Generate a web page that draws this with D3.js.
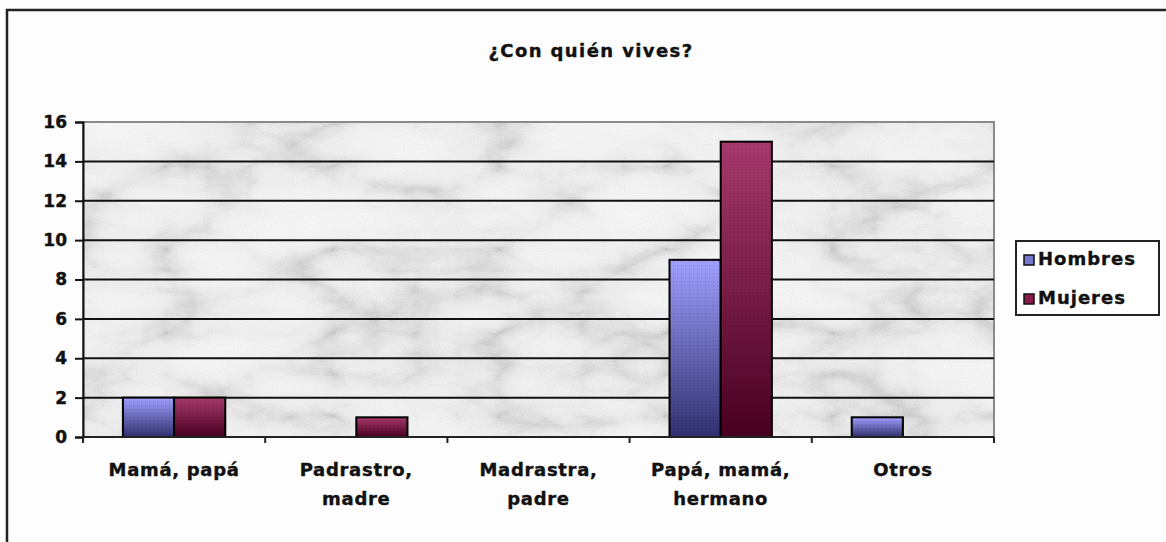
<!DOCTYPE html>
<html>
<head>
<meta charset="utf-8">
<script src="https://cdn.jsdelivr.net/npm/d3@7"></script>
<style>
  body { margin: 0; background: #fdfdfd; }
  text { font-family: "DejaVu Sans", Verdana, sans-serif; font-weight: bold; fill: #111; stroke: #111; stroke-width: 0.4px; }
</style>
</head>
<body>
<script>
var categories = [["Mamá, papá"], ["Padrastro,", "madre"], ["Madrastra,", "padre"], ["Papá, mamá,", "hermano"], ["Otros"]];
var series = ["Hombres", "Mujeres"];
var hombres = [2, 0, 0, 9, 1];
var mujeres = [2, 1, 0, 15, 0];
var yTicks = [0, 2, 4, 6, 8, 10, 12, 14, 16];

var width = 1166;
var height = 542;
var plot = { left: 83, right: 994, top: 122, bottom: 437 };

var svg = d3.select("body").append("svg").attr("width", width).attr("height", height);
var defs = svg.append("defs");

// marble texture
var f = defs.append("filter").attr("id", "marble").attr("x", 0).attr("y", 0).attr("width", 1).attr("height", 1);
f.append("feTurbulence").attr("type", "turbulence").attr("baseFrequency", "0.006 0.012")
    .attr("numOctaves", 5).attr("seed", 3).attr("result", "t");
f.append("feColorMatrix").attr("in", "t").attr("type", "matrix")
    .attr("values", "1 0 0 0 0  1 0 0 0 0  1 0 0 0 0  0 0 0 0 1").attr("result", "g");
var ct = f.append("feComponentTransfer").attr("in", "g").attr("result", "m");
["feFuncR", "feFuncG", "feFuncB"].forEach(function(fn) {
    ct.append(fn).attr("type", "table").attr("tableValues", "0.58 0.73 0.83 0.87 0.89 0.9 0.91 0.91");
});
f.append("feTurbulence").attr("type", "fractalNoise").attr("baseFrequency", 0.9)
    .attr("numOctaves", 1).attr("seed", 11).attr("result", "n0");
f.append("feColorMatrix").attr("in", "n0").attr("type", "matrix")
    .attr("values", "1 0 0 0 0  1 0 0 0 0  1 0 0 0 0  0 0 0 0 1").attr("result", "n");
f.append("feComposite").attr("in", "m").attr("in2", "n").attr("operator", "arithmetic")
    .attr("k1", 0).attr("k2", 1).attr("k3", 0.16).attr("k4", -0.08);

var gradColors = { Hombres: ["#a0a0ff", "#30306e"], Mujeres: ["#a63a6c", "#480020"] };
series.forEach(function(s) {
    var g = defs.append("linearGradient").attr("id", "grad-" + s).attr("x1", 0).attr("y1", 0).attr("x2", 0).attr("y2", 1);
    g.append("stop").attr("offset", "0%").attr("stop-color", gradColors[s][0]);
    g.append("stop").attr("offset", "100%").attr("stop-color", gradColors[s][1]);
});
var dots = defs.append("pattern").attr("id", "dots").attr("width", 4).attr("height", 4).attr("patternUnits", "userSpaceOnUse");
dots.append("rect").attr("x", 1).attr("y", 1).attr("width", 1).attr("height", 1).attr("fill", "#000").attr("opacity", 0.2);

// outer frame
svg.append("rect").attr("x", 7).attr("y", 10).attr("width", 1300).attr("height", 600)
    .attr("fill", "none").attr("stroke", "#222").attr("stroke-width", 2.5);

var x0 = d3.scaleBand().domain(d3.range(categories.length)).range([plot.left, plot.right]);
var x1 = d3.scaleBand().domain(series).range([0, x0.bandwidth()]).paddingOuter(0.78);
var y = d3.scaleLinear().domain([0, 16]).range([plot.bottom, plot.top]);

// plot background
svg.append("rect").attr("x", plot.left).attr("y", plot.top)
    .attr("width", plot.right - plot.left).attr("height", plot.bottom - plot.top)
    .attr("fill", "#ddd").attr("filter", "url(#marble)");
svg.append("rect").attr("x", plot.left).attr("y", plot.top)
    .attr("width", plot.right - plot.left).attr("height", plot.bottom - plot.top)
    .attr("fill", "none").attr("stroke", "#8a8a8a").attr("stroke-width", 2);

// gridlines
svg.append("g").selectAll("line").data(yTicks.filter(function(d) { return d > 0 && d < 16; }))
    .enter().append("line")
    .attr("x1", plot.left).attr("x2", plot.right)
    .attr("y1", function(d) { return y(d); }).attr("y2", function(d) { return y(d); })
    .attr("stroke", "#111").attr("stroke-width", 2);

// bars
var data = [];
categories.forEach(function(c, i) {
    data.push({ i: i, s: "Hombres", v: hombres[i] });
    data.push({ i: i, s: "Mujeres", v: mujeres[i] });
});
var bars = svg.append("g").selectAll("g").data(data.filter(function(d) { return d.v > 0; })).enter().append("g");
bars.append("rect")
    .attr("x", function(d) { return x0(d.i) + x1(d.s); })
    .attr("y", function(d) { return y(d.v); })
    .attr("width", x1.bandwidth())
    .attr("height", function(d) { return y(0) - y(d.v); })
    .attr("fill", function(d) { return "url(#grad-" + d.s + ")"; });
bars.append("rect")
    .attr("x", function(d) { return x0(d.i) + x1(d.s); })
    .attr("y", function(d) { return y(d.v); })
    .attr("width", x1.bandwidth())
    .attr("height", function(d) { return y(0) - y(d.v); })
    .attr("fill", "url(#dots)")
    .attr("stroke", "#000").attr("stroke-width", 2);

// y axis
var yAxis = svg.append("g").attr("transform", "translate(" + plot.left + ",0)")
    .call(d3.axisLeft(y).tickValues(yTicks).tickSize(8).tickPadding(8));
yAxis.select(".domain").attr("stroke", "#111").attr("stroke-width", 2);
yAxis.selectAll(".tick line").attr("stroke", "#111").attr("stroke-width", 2);
yAxis.selectAll("text").style("font-size", "17px").style("font-family", "'DejaVu Sans', Verdana, sans-serif")
    .style("font-weight", "bold").attr("fill", "#111");

// x axis
var xAxis = svg.append("g").attr("transform", "translate(0," + plot.bottom + ")");
xAxis.append("line").attr("x1", plot.left).attr("x2", plot.right).attr("stroke", "#222").attr("stroke-width", 2);
xAxis.selectAll(".tk").data(d3.range(categories.length + 1)).enter().append("line")
    .attr("x1", function(d) { return plot.left + d * x0.bandwidth(); })
    .attr("x2", function(d) { return plot.left + d * x0.bandwidth(); })
    .attr("y1", 0).attr("y2", 6).attr("stroke", "#222").attr("stroke-width", 2);
var labels = xAxis.selectAll(".lbl").data(categories).enter().append("text")
    .attr("text-anchor", "middle")
    .style("font-size", "18px").style("letter-spacing", "0.7px");
labels.selectAll("tspan").data(function(d, i) { return d.map(function(t) { return { t: t, i: i }; }); })
    .enter().append("tspan")
    .attr("x", function(d) { return x0(d.i) + x0.bandwidth() / 2; })
    .attr("y", function(d, j) { return 39 + j * 29; })
    .text(function(d) { return d.t; });

// title
svg.append("text").attr("x", 591).attr("y", 57).attr("text-anchor", "middle")
    .style("font-size", "18px").style("letter-spacing", "1.4px")
    .text("¿Con quién vives?");

// legend
var legend = svg.append("g").attr("transform", "translate(1016,241)");
legend.append("rect").attr("width", 143).attr("height", 74).attr("fill", "#fff")
    .attr("stroke", "#222").attr("stroke-width", 2);
var li = legend.selectAll(".li").data(series).enter().append("g")
    .attr("transform", function(d, i) { return "translate(8," + (24 + i * 39) + ")"; });
li.append("rect").attr("x", 0).attr("y", -10).attr("width", 10).attr("height", 10)
    .attr("fill", function(d) { return d === "Hombres" ? "#7777cc" : "#8a1a48"; })
    .attr("stroke", "#111").attr("stroke-width", 1.5);
li.append("text").attr("x", 14).attr("y", 0).style("font-size", "18px").style("letter-spacing", "1px")
    .text(function(d) { return d; });
</script>
</body>
</html>
